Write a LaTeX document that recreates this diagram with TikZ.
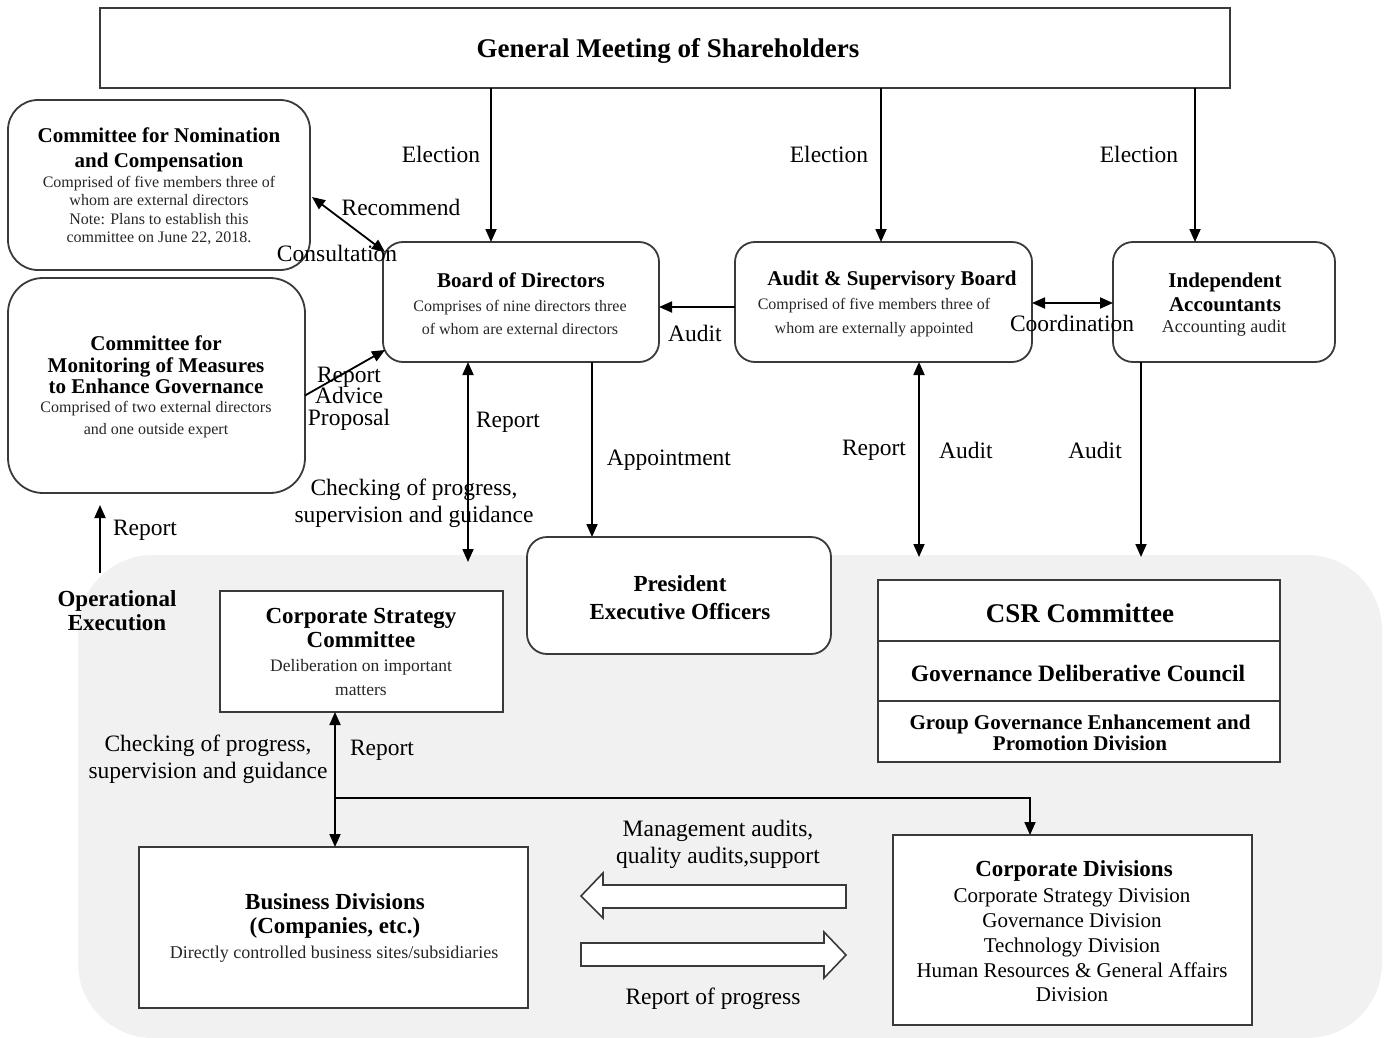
\documentclass[tikz,border=0pt]{standalone}
\usepackage{fontspec}
\setmainfont{Liberation Serif}
\usetikzlibrary{arrows.meta,calc}
\definecolor{boxline}{HTML}{3A3A3A}
\definecolor{bggray}{HTML}{F1F1F1}
\begin{document}
\begin{tikzpicture}[x=1pt,y=-1pt,
  sbox/.style={draw=boxline, line width=1.8pt, fill=white, inner sep=0pt, outer sep=0pt},
  rbox/.style={sbox, rounded corners=#1},
  rbox/.default=20pt,
  arr/.style={line width=1.8pt, -{Triangle[length=13pt,width=11pt]}},
  darr/.style={line width=1.8pt, {Triangle[length=13pt,width=11pt]}-{Triangle[length=13pt,width=11pt]}},
  lbl/.style={font=\fontsize{23.5}{27}\selectfont, inner sep=0pt, align=center},
  ttl/.style={font=\fontsize{21}{25}\bfseries\selectfont, inner sep=0pt, align=center},
  sml/.style={font=\fontsize{16}{18.3}\selectfont, inner sep=0pt, align=center, text=black!85},
  blk/.style={draw=boxline, line width=1.6pt, fill=white, line join=miter}
]
\useasboundingbox (0,0) rectangle (1386,1038);
% background region
\fill[bggray, rounded corners=75pt] (78,555) rectangle (1382,1038);

% boxes
\node[sbox, minimum width=1130pt, minimum height=80pt] (gms) at (665,48) {};
\node[font=\fontsize{27}{30}\bfseries\selectfont, inner sep=0pt] (gmsT) at (668,51) {General Meeting of Shareholders};

\node[rbox=30pt, minimum width=302pt, minimum height=170pt] (nom) at (159,185) {};
\node[ttl] (nomT) at (159,150) {Committee for Nomination\\and Compensation};
\node[sml] (nomS) at (159,210.5) {Comprised of five members three of\\whom are external directors\\Note: Plans to establish this\\committee on June 22, 2018.};

\node[rbox=35pt, minimum width=297pt, minimum height=215pt] (mon) at (156.5,385.5) {};
\node[ttl, font=\fontsize{21}{21.5}\bfseries\selectfont] (monT) at (156,365) {Committee for\\Monitoring of Measures\\to Enhance Governance};
\node[sml, font=\fontsize{16}{22}\selectfont] (monS) at (156,420) {Comprised of two external directors\\and one outside expert};

\node[rbox, minimum width=276pt, minimum height=120pt] (bod) at (521,302) {};
\node[ttl] (bodT) at (521,280) {Board of Directors};
\node[sml, font=\fontsize{16}{23}\selectfont] (bodS) at (520,317.5) {Comprises of nine directors three\\of whom are external directors};

\node[rbox, minimum width=297pt, minimum height=120pt] (asb) at (883.5,302) {};
\node[ttl] (asbT) at (892,280) {Audit \& Supervisory Board};
\node[sml, font=\fontsize{16}{24}\selectfont] (asbS) at (874,318) {Comprised of five members three of\\whom are externally appointed};

\node[rbox, minimum width=222pt, minimum height=120pt] (ia) at (1224,302) {};
\node[ttl, font=\fontsize{21}{24}\bfseries\selectfont] (iaT) at (1225,292) {Independent\\Accountants};
\node[sml, font=\fontsize{18}{20}\selectfont] (iaS) at (1224,328) {Accounting audit};

\node[rbox, minimum width=304pt, minimum height=117pt] (pres) at (679,595.5) {};
\node[ttl, font=\fontsize{23}{28}\bfseries\selectfont] (presT) at (680,598) {President\\Executive Officers};

\node[sbox, minimum width=283pt, minimum height=121pt] (csc) at (361.5,651.5) {};
\node[ttl, font=\fontsize{23}{24}\bfseries\selectfont] (cscT) at (361,628) {Corporate Strategy\\Committee};
\node[sml, font=\fontsize{17.5}{24}\selectfont] (cscS) at (361,678) {Deliberation on important\\matters};

\node[sbox, minimum width=402pt, minimum height=61pt] (csr1) at (1079,610.5) {};
\node[sbox, minimum width=402pt, minimum height=60pt] (csr2) at (1079,671) {};
\node[sbox, minimum width=402pt, minimum height=61pt] (csr3) at (1079,731.5) {};
\node[font=\fontsize{27}{30}\bfseries\selectfont, inner sep=0pt] (csrT) at (1080,613) {CSR Committee};
\node[ttl, font=\fontsize{23.5}{26}\bfseries\selectfont] (gdcT) at (1078,673) {Governance Deliberative Council};
\node[ttl, font=\fontsize{21}{21}\bfseries\selectfont] (ggeT) at (1080,732.5) {Group Governance Enhancement and\\Promotion Division};

\node[sbox, minimum width=389pt, minimum height=161pt] (bus) at (333.5,927.5) {};
\node[ttl, font=\fontsize{23}{24}\bfseries\selectfont] (busT) at (335,916) {Business Divisions\\(Companies, etc.)};
\node[sml, font=\fontsize{18}{20}\selectfont] (busS) at (334,954) {Directly controlled business sites/subsidiaries};

\node[sbox, minimum width=359pt, minimum height=190pt] (corp) at (1072.5,930) {};
\node[ttl, font=\fontsize{23}{25}\bfseries\selectfont] (corpT) at (1074,871) {Corporate Divisions};
\node[lbl, font=\fontsize{21}{24.75}\selectfont] (corpS) at (1072,945.5) {Corporate Strategy Division\\Governance Division\\Technology Division\\Human Resources \& General Affairs\\Division};

\node[ttl, font=\fontsize{23}{24}\bfseries\selectfont] (oper) at (117,611) {Operational\\Execution};

% helper coordinates
\coordinate (e1) at (491,0);
\coordinate (e2) at (881,0);
\coordinate (e3) at (1195,0);
\coordinate (c1) at (468,562);
\coordinate (c2) at (592,0);
\coordinate (c3) at (919,557);
\coordinate (c4) at (1141,557);
\coordinate (c5a) at (100,573);
\coordinate (c5b) at (100,505);
\coordinate (c6) at (335,0);
\coordinate (c7) at (335,798);
\coordinate (c8) at (1030,0);

% connectors
\draw[arr] (e1 |- gms.south) -- (e1 |- bod.north);
\draw[arr] (e2 |- gms.south) -- (e2 |- asb.north);
\draw[arr] (e3 |- gms.south) -- (e3 |- ia.north);
\draw[darr] ($(nom.east)+(2,12)$) -- ($(bod.north west)+(2,10)$);
\draw[arr] ($(mon.east)+(0,10)$) -- ($(bod.south west)+(2,-12)$);
\draw[arr] ($(asb.west)+(0,5)$) -- ($(bod.east)+(0,5)$);
\draw[darr] ($(asb.east)+(0,1)$) -- ($(ia.west)+(0,1)$);
\draw[darr] (c1 |- bod.south) -- (c1);
\draw[arr] (c2 |- bod.south) -- (c2 |- pres.north);
\draw[darr] (c3 |- asb.south) -- (c3);
\draw[arr] (c4 |- ia.south) -- (c4);
\draw[arr] (c5a) -- (c5b);
\draw[darr] (c6 |- csc.south) -- (c6 |- bus.north);
\draw[arr] (c7) -| (c8 |- corp.north);

% block arrows
\draw[blk] (581,896) -- (603,873) -- (603,885) -- (846,885) -- (846,908) -- (603,908) -- (603,918) -- cycle;
\draw[blk] (846,955) -- (824,932) -- (824,943) -- (581,943) -- (581,966) -- (824,966) -- (824,978) -- cycle;

% labels
\node[lbl] (l1) at (441,154) {Election};
\node[lbl] (l2) at (829,154) {Election};
\node[lbl] (l3) at (1139,154) {Election};
\node[lbl] (l4) at (401,207) {Recommend};
\node[lbl] (l5) at (337,253) {Consultation};
\node[lbl, font=\fontsize{23.5}{21.5}\selectfont] (l6) at (349,398.5) {Report\\Advice\\Proposal};
\node[lbl] (l7) at (695,333) {Audit};
\node[lbl] (l8) at (1072,323) {Coordination};
\node[lbl] (l9) at (508,422) {Report};
\node[lbl] (l10) at (414,503.5) {Checking of progress,\\supervision and guidance};
\node[lbl] (l11) at (669,460) {Appointment};
\node[lbl] (l12) at (874,450) {Report};
\node[lbl] (l13) at (966,450) {Audit};
\node[lbl] (l14) at (1095,450) {Audit};
\node[lbl] (l15) at (145,530) {Report};
\node[lbl] (l16) at (208,759.5) {Checking of progress,\\supervision and guidance};
\node[lbl] (l17) at (382,750) {Report};
\node[lbl] (l18) at (718,844.5) {Management audits,\\quality audits,support};
\node[lbl] (l19) at (713,999) {Report of progress};
\end{tikzpicture}
\end{document}
